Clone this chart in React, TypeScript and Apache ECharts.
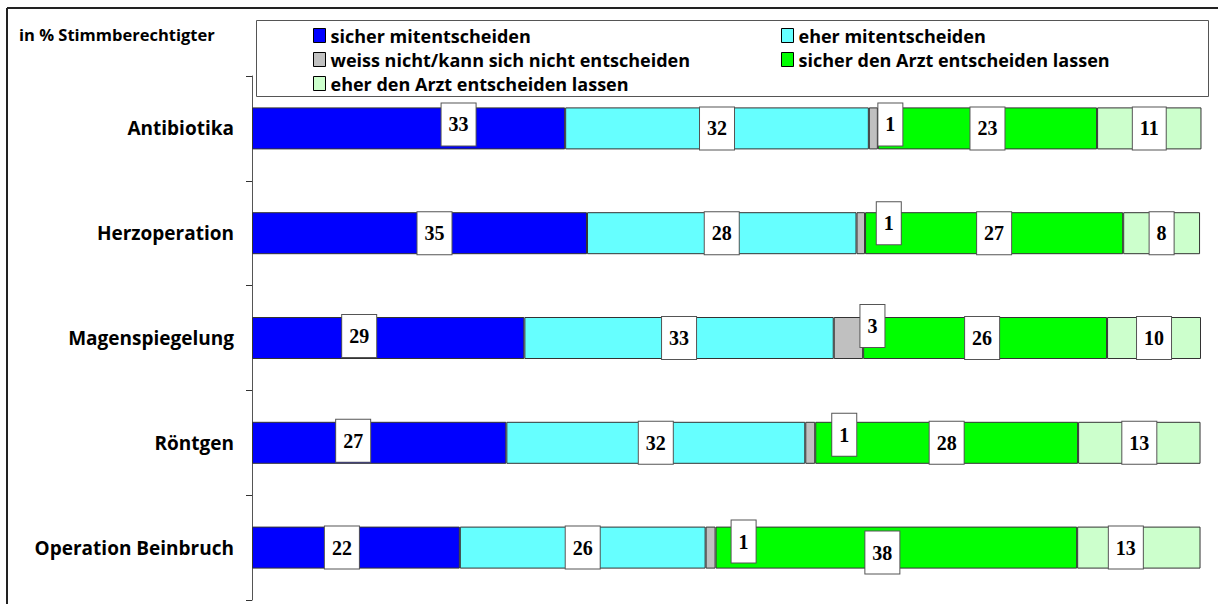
import React, { useEffect, useRef } from "react";
import * as echarts from "echarts";

const categories = ["Antibiotika", "Herzoperation", "Magenspiegelung", "Röntgen", "Operation Beinbruch"];
const seriesNames = [
  "sicher mitentscheiden",
  "eher mitentscheiden",
  "weiss nicht/kann sich nicht entscheiden",
  "sicher den Arzt entscheiden lassen",
  "eher den Arzt entscheiden lassen",
];
const sicherMit = [33.0, 35.3, 28.7, 26.8, 21.9];
const eherMit = [32.0, 28.4, 32.6, 31.5, 25.9];
const weissNicht = [0.95, 0.9, 3.1, 1.05, 1.05];
const sicherArzt = [23.1, 27.2, 25.7, 27.7, 38.1];
const eherArzt = [11.0, 8.1, 9.9, 12.9, 13.0];
const axisTitle = "in % Stimmberechtigter";

const colors = ["#0000FF", "#66FFFF", "#C0C0C0", "#00FF00", "#CCFFCC"];
// label box offsets (styling only), per series, per category
const labelOffsets = [
  [[50, -4], [15, 0], [-29, -2], [-26, -2], [-14, 0]],
  [[0, 0], [0, 0], [0, 0], [0, 0], [0, 0]],
  [[17, -4], [28, -10], [24, -12], [34, -8], [33, -6]],
  [[0, 0], [0, 0], [-3, 0], [0, 0], [-14, 5]],
  [[0, 0], [0, 0], [0, 0], [0, 0], [-13, 0]],
];

const SANS = "Open Sans";

export default function App() {
  const ref = useRef<HTMLDivElement>(null);
  useEffect(() => {
    if (!ref.current) return;
    const chart = echarts.init(ref.current, null, { renderer: "svg" });
    const values = [sicherMit, eherMit, weissNicht, sicherArzt, eherArzt];
    const series = values.map((arr, si) => ({
      name: seriesNames[si],
      type: "bar",
      stack: "total",
      barWidth: 42,
      itemStyle: { color: colors[si], borderColor: "#333", borderWidth: 1 },
      data: arr.map((v, ci) => ({
        value: v,
        label: { offset: labelOffsets[si][ci] },
      })),
      label: {
        show: true,
        position: "inside",
        formatter: (p: any) => String(Math.round(p.value)),
        backgroundColor: "#fff",
        borderColor: "#555",
        borderWidth: 1,
        padding: [10, 7, 10, 7],
        color: "#000",
        fontFamily: "Liberation Serif",
        fontWeight: "bold",
        fontSize: 20,
        lineHeight: 22,
      },
    }));
    const legendCommon = {
      orient: "vertical",
      itemWidth: 12,
      itemHeight: 14,
      itemGap: 3,
      icon: "rect",
      itemStyle: { borderColor: "#000", borderWidth: 1 },
      textStyle: {
        fontFamily: SANS,
        fontWeight: "bold",
        fontSize: 18,
        color: "#000",
        lineHeight: 21,
      },
      padding: 0,
      selectedMode: false,
    };
    chart.setOption({
      animation: false,
      backgroundColor: "#fff",
      grid: { left: 252, top: 76, width: 949, height: 524, containLabel: false },
      xAxis: { type: "value", min: 0, max: 100, show: false },
      yAxis: {
        type: "category",
        inverse: true,
        data: categories,
        axisLine: { show: true, lineStyle: { color: "#555", width: 1 } },
        axisTick: { show: true, length: 6, lineStyle: { color: "#333" } },
        axisLabel: {
          margin: 18,
          fontFamily: SANS,
          fontWeight: "bold",
          fontSize: 19,
          color: "#000",
        },
      },
      legend: [
        { ...legendCommon, left: 313, top: 25, data: [seriesNames[0], seriesNames[2], seriesNames[4]] },
        { ...legendCommon, left: 781, top: 25, data: [seriesNames[1], seriesNames[3]] },
      ],
      graphic: [
        {
          type: "line",
          shape: { x1: 7, y1: 8, x2: 1218, y2: 8 },
          style: { stroke: "#222", lineWidth: 2 },
        },
        {
          type: "line",
          shape: { x1: 7, y1: 8, x2: 7, y2: 604 },
          style: { stroke: "#222", lineWidth: 2 },
        },
        {
          type: "rect",
          shape: { x: 256.5, y: 20.5, width: 952, height: 76 },
          style: { fill: "none", stroke: "#555", lineWidth: 1 },
        },
        {
          type: "text",
          x: 19,
          y: 34,
          style: {
            text: axisTitle,
            fontFamily: SANS,
            fontWeight: "bold",
            fontSize: 16.5,
            fill: "#000",
            verticalAlign: "middle",
          },
        },
      ],
      series,
    });
    return () => chart.dispose();
  }, []);
  return (
    <div
      ref={ref}
      style={{ position: "fixed", left: 0, top: 0, width: 1218, height: 604 }}
    />
  );
}
